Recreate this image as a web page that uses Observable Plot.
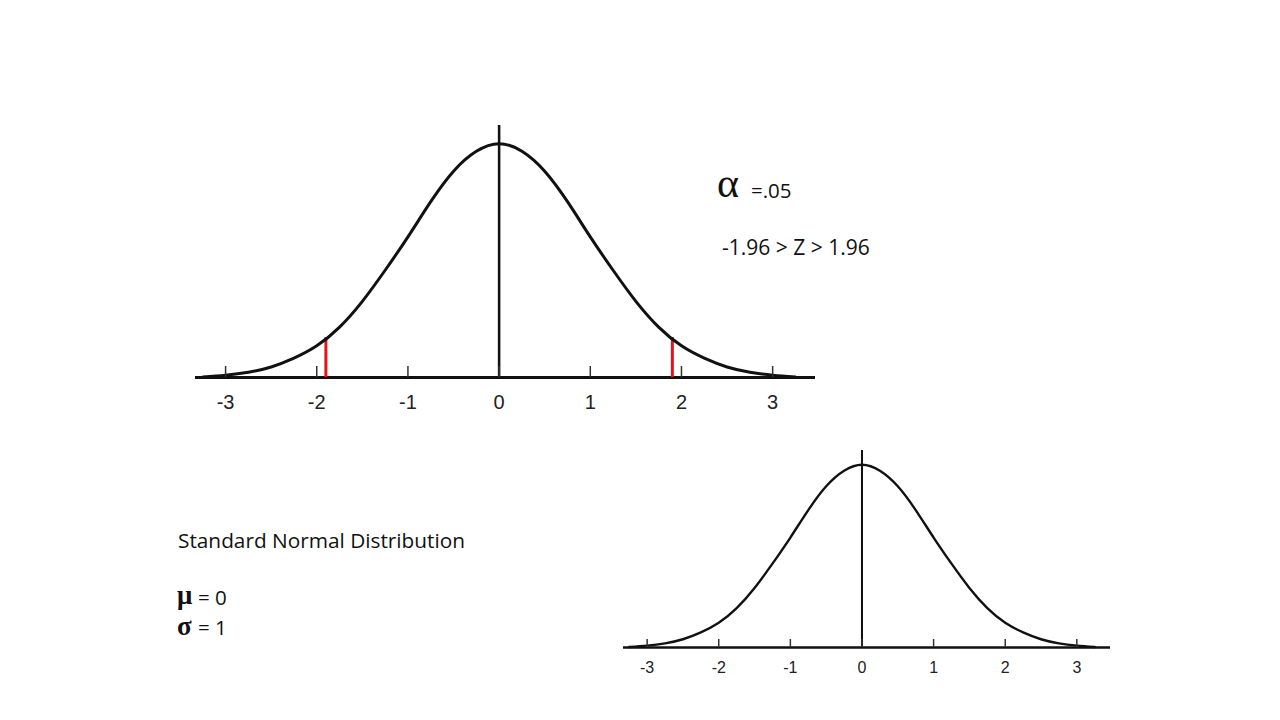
<!DOCTYPE html>
<html>
<head>
<meta charset="utf-8">
<script src="https://cdn.jsdelivr.net/npm/d3@7"></script>
<script src="https://cdn.jsdelivr.net/npm/@observablehq/plot@0.6"></script>
<style>
  html, body { margin: 0; padding: 0; background: #fff; }
  #page { position: relative; width: 1280px; height: 720px; overflow: hidden; background: #fff; }
  #top, #bottom, #notes { position: absolute; }
  #top { left: 195px; top: 125px; }
  #bottom { left: 623px; top: 450px; }
  #notes { left: 0; top: 0; }
</style>
</head>
<body>
<div id="page">
  <div id="top"></div>
  <div id="bottom"></div>
  <svg id="notes" width="1280" height="720" xmlns="http://www.w3.org/2000/svg">
    <text x="717" y="197" font-family="Liberation Serif" font-size="42" fill="#111">α</text>
    <text x="751" y="198" font-family="Open Sans" font-size="20.5" fill="#111">=.05</text>
    <text x="722" y="255" font-family="Open Sans" font-size="21" fill="#111">-1.96 &gt; Z &gt; 1.96</text>
    <text x="178" y="548" font-family="Open Sans" font-size="20.8" fill="#111">Standard Normal Distribution</text>
    <text x="177" y="604" font-family="Liberation Serif" font-size="27" font-weight="bold" fill="#111">μ</text>
    <text x="198" y="605" font-family="Open Sans" font-size="20.5" fill="#111">= 0</text>
    <text x="177" y="635" font-family="Liberation Serif" font-size="27" font-weight="bold" fill="#111">σ</text>
    <text x="198" y="635" font-family="Open Sans" font-size="20.5" fill="#111">= 1</text>
  </svg>
</div>
<script>
// z positions read along the curve and the curve height (density) at each
const zValues = [-3.25, -3, -2.75, -2.5, -2.25, -2, -1.75, -1.5, -1.25, -1, -0.75, -0.5, -0.25, 0,
                 0.25, 0.5, 0.75, 1, 1.25, 1.5, 1.75, 2, 2.25, 2.5, 2.75, 3, 3.25];
const density = [0.001, 0.004, 0.009, 0.018, 0.033, 0.054, 0.086, 0.130, 0.183, 0.240, 0.300, 0.352, 0.386, 0.399,
                 0.386, 0.352, 0.300, 0.240, 0.183, 0.130, 0.086, 0.054, 0.033, 0.018, 0.009, 0.004, 0.001];
// red critical-value lines (top chart)
const criticalZ = [-1.9, 1.9];
const criticalHeight = [0.068, 0.068];
// axis ticks
const tickValues = [-3, -2, -1, 0, 1, 2, 3];
const tickLabels = ["-3", "-2", "-1", "0", "1", "2", "3"];
const xDomain = [-3.33, 3.47];
const yDomain = [0, 0.43];

const curve = zValues.map((z, i) => ({z, d: density[i]}));
const crit = criticalZ.map((z, i) => ({z, d: criticalHeight[i]}));
const fmt = d => tickLabels[tickValues.indexOf(d)];

function chart({width, plotHeight, marginBottom, sw, tickLen, pad, fontSize, showCritical}) {
  return Plot.plot({
    width,
    height: plotHeight + marginBottom,
    marginTop: 0, marginLeft: 0, marginRight: 0, marginBottom,
    x: {domain: xDomain, axis: null},
    y: {domain: yDomain, axis: null},
    style: {background: "transparent", overflow: "visible", fontSize: fontSize + "px", fontFamily: "Liberation Sans"},
    marks: [
      Plot.ruleY([0], {stroke: "#111", strokeWidth: sw}),
      Plot.ruleX([0], {stroke: "#111", strokeWidth: sw * 0.85}),
      showCritical ? Plot.ruleX(crit, {x: "z", y1: 0, y2: "d", stroke: "#e3141b", strokeWidth: sw}) : null,
      Plot.line(curve, {x: "z", y: "d", curve: "natural", stroke: "#111", strokeWidth: sw}),
      Plot.axisX(tickValues, {anchor: "bottom", label: null, tickSize: -tickLen, tickPadding: pad, tickFormat: fmt,
        stroke: "#333", strokeWidth: 1.5, fill: "#222", fontSize, fontFamily: "Liberation Sans"})
    ]
  });
}

document.getElementById("top").appendChild(chart({
  width: 620, plotHeight: 252, marginBottom: 48, sw: 3, tickLen: 11, pad: 28, fontSize: 20, showCritical: true
}));
document.getElementById("bottom").appendChild(chart({
  width: 487, plotHeight: 197, marginBottom: 40, sw: 2.4, tickLen: 8, pad: 22, fontSize: 16, showCritical: false
}));
</script>
</body>
</html>
